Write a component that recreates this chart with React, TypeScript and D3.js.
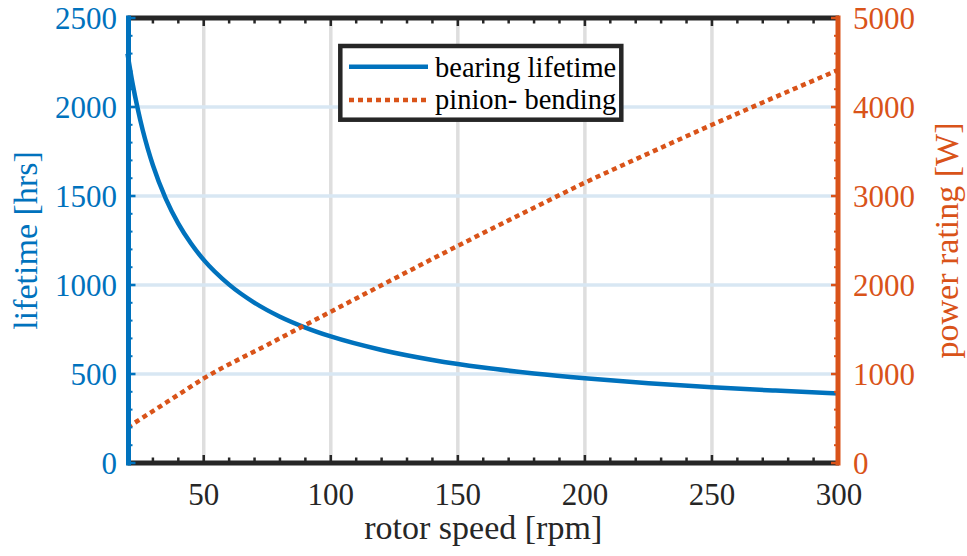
import React from "react";
import * as d3 from "d3";

const speedLife = [20, 22, 24, 26, 28, 30, 35, 40, 45, 50, 60, 70, 80, 90, 100, 120, 140, 160, 180, 200, 225, 250, 275, 300];
const lifetime = [2300, 2132, 1991, 1869, 1765, 1673, 1487, 1345, 1233, 1141, 1002, 900, 822, 761, 711, 635, 579, 536, 503, 476, 448, 425, 407, 391];
const speedPower = [20, 25, 30, 40, 50, 75, 100, 125, 150, 175, 200, 225, 250, 275, 300];
const power = [400, 492, 583, 767, 950, 1327, 1700, 2072, 2440, 2798, 3150, 3478, 3800, 4113, 4420];

const xTicks = [50, 100, 150, 200, 250, 300];
const yLeftTicks = [0, 500, 1000, 1500, 2000, 2500];
const yRightTicks = [0, 1000, 2000, 3000, 4000, 5000];
const seriesNames = ["bearing lifetime", "pinion- bending"];

const BLUE = "#0072BD";
const ORANGE = "#D95319";
const DARK = "#262626";
const FONT = "Liberation Serif";

export default function App() {
  const W = 967, H = 556;
  const L = 127.5, R = 839, T = 18, B = 463;
  const x = d3.scaleLinear().domain([20, 300]).range([L, R]);
  const yL = d3.scaleLinear().domain([0, 2500]).range([B, T]);
  const yR = d3.scaleLinear().domain([0, 5000]).range([B, T]);

  const lifeLine = d3.line<number>().x((_, i) => x(speedLife[i])).y((d) => yL(d)).curve(d3.curveMonotoneX)(lifetime) || "";
  const powerLine = d3.line<number>().x((_, i) => x(speedPower[i])).y((d) => yR(d)).curve(d3.curveMonotoneX)(power) || "";

  const xMinor = d3.range(30, 300, 10).filter((v) => v % 50 !== 0);
  const yLMinor = d3.range(100, 2500, 100).filter((v) => v % 500 !== 0);
  const yRMinor = d3.range(200, 5000, 200).filter((v) => v % 1000 !== 0);
  const ts = { fontFamily: FONT };

  return (
    <svg width={W} height={H} style={{ position: "absolute", left: 0, top: 0 }}>
      <rect x={0} y={0} width={W} height={H} fill="#fff" />
      {xTicks.filter((v) => v < 300).map((v) => (
        <line key={"gx" + v} x1={x(v)} x2={x(v)} y1={T} y2={B} stroke="#dedede" strokeWidth={3.5} />
      ))}
      {yLeftTicks.filter((v) => v > 0 && v < 2500).map((v) => (
        <line key={"gy" + v} x1={L} x2={R} y1={yL(v)} y2={yL(v)} stroke="#d8e7f3" strokeWidth={3.5} />
      ))}
      <line x1={L} x2={R} y1={T} y2={T} stroke={DARK} strokeWidth={5} />
      <line x1={L} x2={R} y1={B} y2={B} stroke={DARK} strokeWidth={5} />
      {xTicks.filter((v) => v < 300).map((v) => (
        <g key={"xt" + v}>
          <line x1={x(v)} x2={x(v)} y1={B} y2={B - 8} stroke={DARK} strokeWidth={2.5} />
          <line x1={x(v)} x2={x(v)} y1={T} y2={T + 8} stroke={DARK} strokeWidth={2.5} />
        </g>
      ))}
      {xMinor.map((v) => (
        <g key={"xm" + v}>
          <line x1={x(v)} x2={x(v)} y1={B} y2={B - 5.5} stroke={DARK} strokeWidth={2.5} />
          <line x1={x(v)} x2={x(v)} y1={T} y2={T + 5.5} stroke={DARK} strokeWidth={2.5} />
        </g>
      ))}
      <path d={lifeLine} fill="none" stroke={BLUE} strokeWidth={4.5} />
      <path d={powerLine} fill="none" stroke={ORANGE} strokeWidth={4.5} strokeDasharray="5 4" />
      {yLeftTicks.map((v) => (
        <line key={"ylt" + v} x1={L} x2={L + 8} y1={yL(v)} y2={yL(v)} stroke={BLUE} strokeWidth={2.5} />
      ))}
      {yLMinor.map((v) => (
        <line key={"ylm" + v} x1={L} x2={L + 5} y1={yL(v)} y2={yL(v)} stroke={BLUE} strokeWidth={2} />
      ))}
      <line x1={L + 1} x2={L + 1} y1={T - 2.5} y2={B + 2.5} stroke={BLUE} strokeWidth={5} />
      {yRightTicks.map((v) => (
        <line key={"yrt" + v} x1={R} x2={R - 8} y1={yR(v)} y2={yR(v)} stroke={ORANGE} strokeWidth={2.5} />
      ))}
      {yRMinor.map((v) => (
        <line key={"yrm" + v} x1={R} x2={R - 5} y1={yR(v)} y2={yR(v)} stroke={ORANGE} strokeWidth={2} />
      ))}
      <line x1={R - 1} x2={R - 1} y1={T - 2.5} y2={B + 2.5} stroke={ORANGE} strokeWidth={5} />
      {xTicks.map((v) => (
        <text key={"xl" + v} x={x(v)} y={505} textAnchor="middle" fontSize={31} fill={DARK} style={ts}>{v}</text>
      ))}
      {yLeftTicks.map((v) => (
        <text key={"yll" + v} x={117} y={yL(v) + 10.5} textAnchor="end" fontSize={31} fill={BLUE} style={ts}>{v}</text>
      ))}
      {yRightTicks.map((v) => (
        <text key={"yrl" + v} x={853} y={yR(v) + 10.5} textAnchor="start" fontSize={31} fill={ORANGE} style={ts}>{v}</text>
      ))}
      <text x={(L + R) / 2} y={539} textAnchor="middle" fontSize={34} fill={DARK} style={ts}>rotor speed [rpm]</text>
      <text transform={`translate(37,${(T + B) / 2}) rotate(-90)`} textAnchor="middle" fontSize={34} fill={BLUE} style={ts}>lifetime [hrs]</text>
      <text transform={`translate(958,${(T + B) / 2}) rotate(-90)`} textAnchor="middle" fontSize={34} fill={ORANGE} style={ts}>power rating [W]</text>
      <rect x={340.3} y={46} width={281} height={73.7} fill="#fff" stroke={DARK} strokeWidth={4.5} />
      <line x1={349} x2={428} y1={66.7} y2={66.7} stroke={BLUE} strokeWidth={4.5} />
      <line x1={349} x2={428} y1={100} y2={100} stroke={ORANGE} strokeWidth={4.5} strokeDasharray="5 4" />
      <text x={435} y={76.7} fontSize={28.5} fill="#000" style={ts}>{seriesNames[0]}</text>
      <text x={435} y={109} fontSize={28.5} fill="#000" style={ts}>{seriesNames[1]}</text>
    </svg>
  );
}
